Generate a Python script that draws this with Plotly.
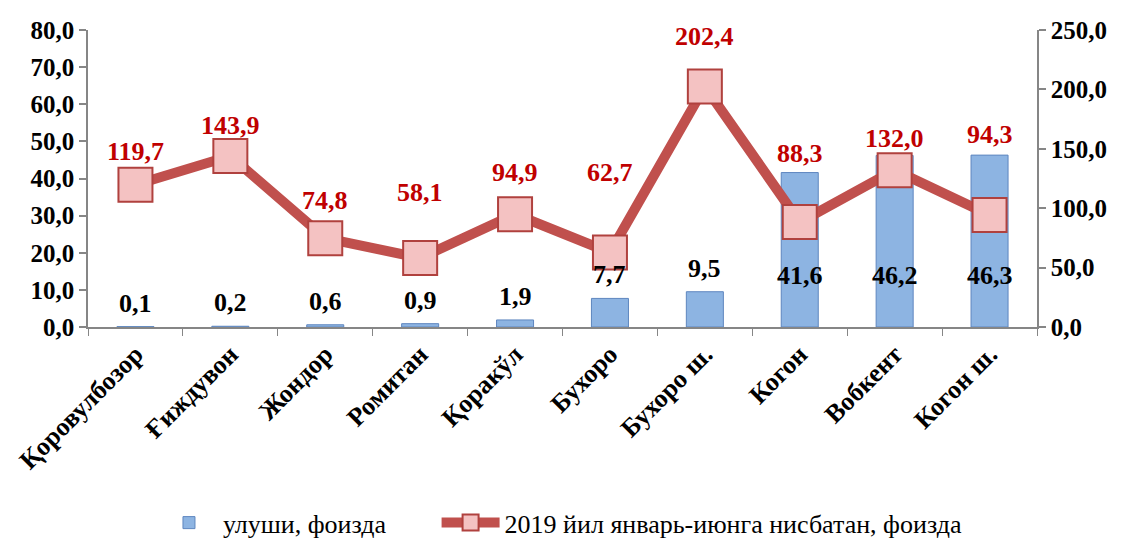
import plotly.graph_objects as go

categories = ["Қоровулбозор", "Ғиждувон", "Жондор", "Ромитан", "Қоракўл",
              "Бухоро", "Бухоро ш.", "Когон", "Вобкент", "Когон ш."]
share = [0.1, 0.2, 0.6, 0.9, 1.9, 7.7, 9.5, 41.6, 46.2, 46.3]
growth = [119.7, 143.9, 74.8, 58.1, 94.9, 62.7, 202.4, 88.3, 132.0, 94.3]
left_ticks = [0, 10, 20, 30, 40, 50, 60, 70, 80]
right_ticks = [0, 50, 100, 150, 200, 250]

name_bar = "улуши, фоизда"
name_line = "2019 йил январь-июнга нисбатан, фоизда"

FONT = "Liberation Serif, Times New Roman, serif"
LEGEND_GAP = "\u00a0" * 7

def fmt(v):
    return f"{v:.1f}".replace(".", ",")

fig = go.Figure()
fig.add_trace(go.Bar(
    x=categories, y=share, name=name_bar + LEGEND_GAP,
    marker=dict(color="#8DB4E2", line=dict(color="#5E86BF", width=1)),
    width=0.39, yaxis="y",
))
fig.add_trace(go.Scatter(
    x=categories, y=growth, name=name_line, yaxis="y2",
    mode="lines+markers",
    line=dict(color="#C0504D", width=10),
    marker=dict(symbol="square", size=34, color="#F4C2C2",
                line=dict(color="#B0413E", width=2)),
))

annotations = []
# bar labels: small bars labelled above, large bars labelled inside near base
for c, v in zip(categories, share):
    if v < 20:
        annotations.append(dict(x=c, y=v, xref="x", yref="y", text=f"<b>{fmt(v)}</b>",
                                showarrow=False, yanchor="bottom", yshift=7,
                                font=dict(family=FONT, size=26, color="black")))
    else:
        annotations.append(dict(x=c, y=0, xref="x", yref="y", text=f"<b>{fmt(v)}</b>",
                                showarrow=False, yanchor="middle", yshift=52,
                                font=dict(family=FONT, size=26, color="black")))
line_shift = [33, 31, 38, 65, 42, 80, 50, 69, 32, 80]
for c, v, s in zip(categories, growth, line_shift):
    annotations.append(dict(x=c, y=v, xref="x", yref="y2", text=f"<b>{fmt(v)}</b>",
                            showarrow=False, yanchor="middle", yshift=s,
                            font=dict(family=FONT, size=26, color="#C00000")))

axis_common = dict(
    showgrid=False, zeroline=False, showline=True, linecolor="#868686", linewidth=1.5,
    ticks="outside", ticklen=7, tickcolor="#868686", tickwidth=1.5,
    tickfont=dict(family=FONT, size=25, color="black", weight="bold"),
    tickformat=".1f", automargin=False,
)

fig.update_layout(
    width=1123, height=540,
    margin=dict(l=88, r=86, t=30, b=213, autoexpand=False),
    paper_bgcolor="white", plot_bgcolor="white",
    separators=", ",
    xaxis=dict(showgrid=False, showline=True, linecolor="#868686", linewidth=1.5,
               range=[-0.5, len(categories) - 0.5],
               ticks="outside", ticklen=7, tickcolor="#868686", tickson="boundaries",
               tickangle=-45, automargin=False,
               tickfont=dict(family=FONT, size=26, color="black", weight="bold")),
    yaxis=dict(range=[0, 80], tickvals=left_ticks, **axis_common),
    yaxis2=dict(range=[0, 250], tickvals=right_ticks, overlaying="y", side="right",
                **axis_common),
    legend=dict(orientation="h", x=0.138, xanchor="left", xref="container",
                yref="container", y=0.032, yanchor="middle",
                font=dict(family=FONT, size=26, color="black"),
                itemwidth=58, traceorder="normal"),
    annotations=annotations,
    showlegend=True,
)

fig.write_html("out.html", config={"displayModeBar": False},
               post_script="document.body.style.margin='0';")
